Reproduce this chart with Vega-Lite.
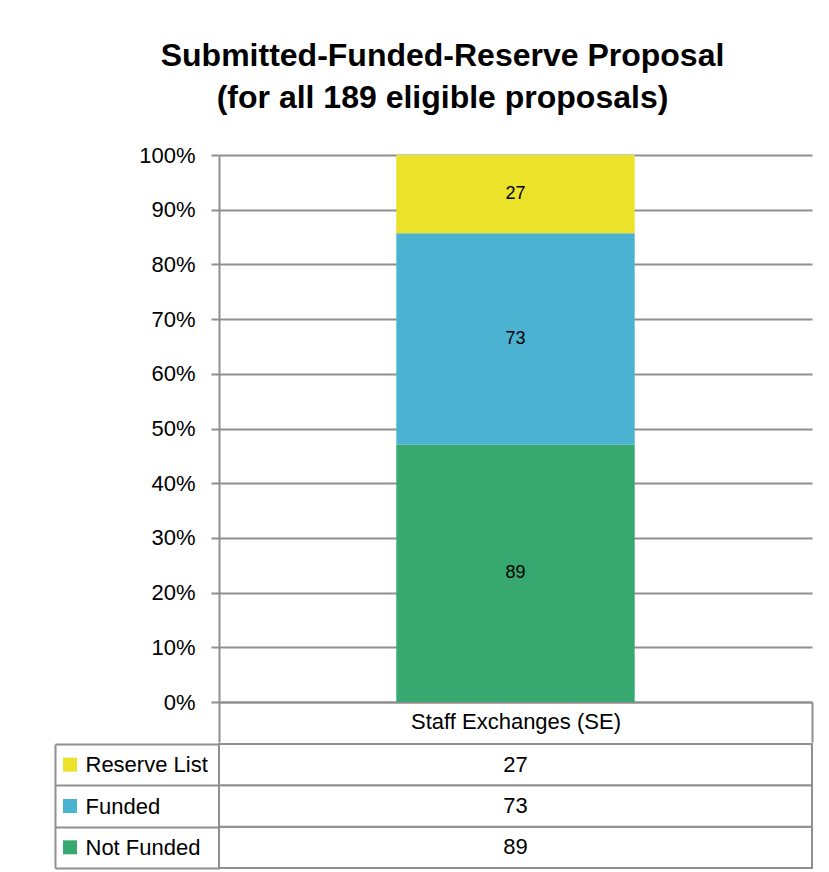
{
  "$schema": "https://vega.github.io/schema/vega-lite/v6.json",
  "padding": {"left": 54, "top": 40, "right": 5, "bottom": 5},
  "background": "white",
  "datasets": {
    "main": [
      {"program": "Staff Exchanges (SE)", "status": "Not Funded", "count": 89},
      {"program": "Staff Exchanges (SE)", "status": "Funded", "count": 73},
      {"program": "Staff Exchanges (SE)", "status": "Reserve List", "count": 27}
    ]
  },
  "title": {
    "text": ["Submitted-Funded-Reserve Proposal", "(for all 189 eligible proposals)"],
    "fontSize": 32,
    "font": "Liberation Sans",
    "fontWeight": "bold",
    "color": "black",
    "lineHeight": 42,
    "anchor": "middle",
    "frame": "bounds",
    "dx": 9,
    "offset": 29
  },
  "spacing": 0,
  "vconcat": [
    {
      "width": 593,
      "height": 547,
      "data": {"name": "main"},
      "transform": [
        {"calculate": "indexof(['Not Funded','Funded','Reserve List'], datum.status)", "as": "stackOrder"}
      ],
      "encoding": {
        "x": {
          "field": "program", "type": "nominal",
          "scale": {"paddingInner": 0, "paddingOuter": 0},
          "axis": {
            "title": null, "labelAngle": 0, "labelFontSize": 22, "labelColor": "black", "labelLimit": 500,
            "tickBand": "extent", "tickSize": 40, "tickColor": "#8f8f8f", "tickWidth": 2,
            "labelPadding": -31,
            "domainColor": "#8f8f8f", "domainWidth": 2,
            "minExtent": 40, "maxExtent": 40
          }
        },
        "y": {
          "field": "count", "type": "quantitative", "stack": "normalize",
          "scale": {"domain": [0, 1]},
          "axis": {
            "values": [0, 0.1, 0.2, 0.3, 0.4, 0.5, 0.6, 0.7, 0.8, 0.9, 1],
            "format": ".0%", "title": null,
            "labelFontSize": 22, "labelColor": "black", "labelPadding": 16,
            "tickSize": 8, "tickColor": "#8f8f8f", "tickWidth": 2,
            "domainColor": "#8f8f8f", "domainWidth": 2,
            "grid": true, "gridColor": "#8f8f8f", "gridWidth": 2,
            "minExtent": 164, "maxExtent": 164
          }
        },
        "order": {"field": "stackOrder", "type": "quantitative"}
      },
      "layer": [
        {
          "mark": {"type": "bar", "width": {"band": 0.402}},
          "encoding": {
            "color": {
              "field": "status", "type": "nominal",
              "scale": {"domain": ["Reserve List", "Funded", "Not Funded"], "range": ["#ECE229", "#4BB3D1", "#37A86F"]},
              "legend": null
            }
          }
        },
        {
          "mark": {"type": "text", "fontSize": 18, "color": "black"},
          "encoding": {
            "y": {"field": "count", "type": "quantitative", "stack": "normalize", "bandPosition": 0.5},
            "text": {"field": "count", "type": "quantitative"}
          }
        }
      ]
    },
    {
      "width": 593,
      "height": 124,
      "data": {"name": "main"},
      "encoding": {
        "y": {
          "field": "status", "type": "nominal",
          "scale": {"domain": ["Reserve List", "Funded", "Not Funded"], "paddingInner": 0, "paddingOuter": 0},
          "axis": {
            "title": null, "offset": 164,
            "domain": true, "domainColor": "#8f8f8f", "domainWidth": 2,
            "ticks": true, "tickBand": "extent", "tickSize": -164, "tickColor": "#8f8f8f", "tickWidth": 2,
            "labelAlign": "left", "labelPadding": 134,
            "labelFontSize": {"condition": {"test": "!datum.label", "value": 0}, "value": 22},
            "labelColor": "black", "labelLimit": 200
          }
        }
      },
      "layer": [
        {"mark": {"type": "rect", "fill": "white", "stroke": "#8f8f8f", "strokeWidth": 2}},
        {
          "mark": {"type": "point", "shape": "square", "filled": true, "size": 196, "opacity": 1, "xOffset": -445.5},
          "encoding": {
            "color": {
              "field": "status", "type": "nominal",
              "scale": {"domain": ["Reserve List", "Funded", "Not Funded"], "range": ["#ECE229", "#4BB3D1", "#37A86F"]},
              "legend": null
            }
          }
        },
        {
          "mark": {"type": "text", "fontSize": 22, "color": "black"},
          "encoding": {"text": {"field": "count", "type": "quantitative"}}
        }
      ]
    }
  ],
  "config": {
    "view": {"stroke": null},
    "font": "Liberation Sans"
  }
}
